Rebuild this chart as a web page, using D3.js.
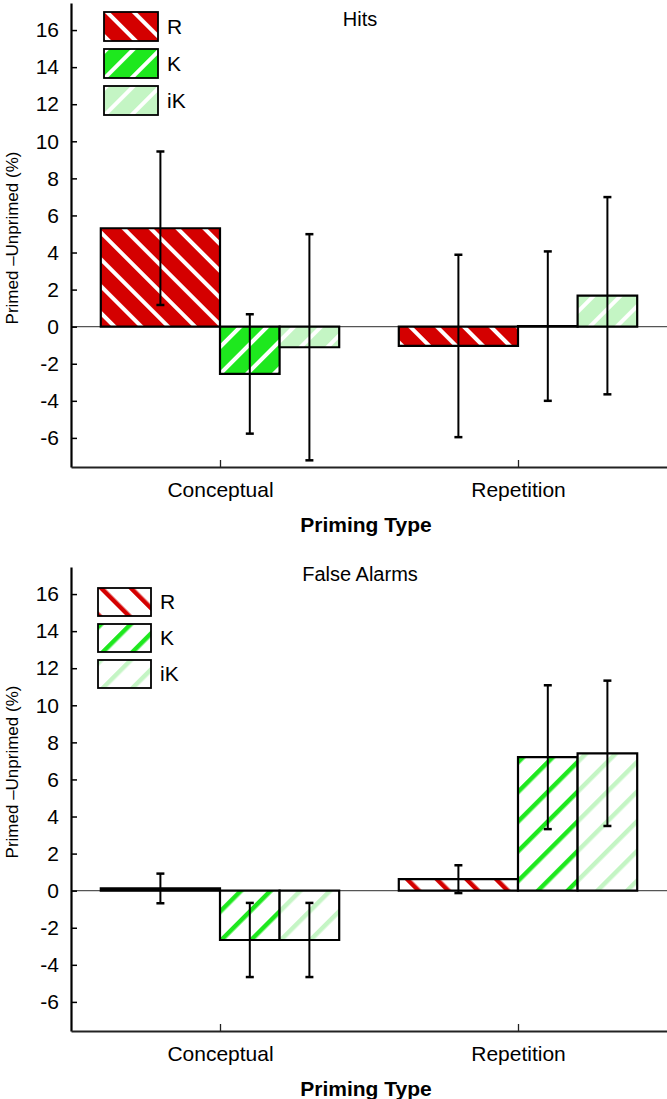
<!DOCTYPE html>
<html><head><meta charset="utf-8">
<script src="https://cdn.jsdelivr.net/npm/d3@7"></script>
<style>
body{margin:0;background:#fff}
svg{display:block}
text{font-family:"Liberation Sans",Arial,Helvetica,sans-serif;fill:#000}
</style>
</head><body>
<svg id="chart" width="667" height="1099"></svg>
<script>
// ---------- data ----------
const categories = ["Conceptual", "Repetition"];
const seriesNames = ["R", "K", "iK"];
const yTicks = [-6, -4, -2, 0, 2, 4, 6, 8, 10, 12, 14, 16];

// Hits panel (mean and error half-width per category)
const hitsR = [5.31, -1.04];
const hitsK = [-2.55, 0.03];
const hitsIK = [-1.11, 1.67];
const hitsErrR = [4.14, 4.92];
const hitsErrK = [3.22, 4.03];
const hitsErrIK = [6.10, 5.32];

// False Alarms panel
const faR = [0.12, 0.62];
const faK = [-2.66, 7.20];
const faIK = [-2.66, 7.41];
const faErrR = [0.80, 0.75];
const faErrK = [2.00, 3.88];
const faErrIK = [2.00, 3.92];

// ---------- styling / layout ----------
const colors = {R: "#d40000", K: "#1ee81e", iK: "#c4f5c4"};
const slots = {R: [-2, 0], K: [0, 1], iK: [1, 2]};
const stripeDir = {R: -45, K: 45, iK: 45};

const panels = [
  {id: "hits", title: "Hits", titleX: 360, titleY: 26, top: 3, bottom: 467, ylabelY: 238,
   style: "solid", legend: {x: 104, y: 12, w: 54, h: 29, step: 37},
   values: {R: hitsR, K: hitsK, iK: hitsIK}, errs: {R: hitsErrR, K: hitsErrK, iK: hitsErrIK}},
  {id: "fa", title: "False Alarms", titleX: 360, titleY: 581, top: 567, bottom: 1031, ylabelY: 772,
   style: "hatch", legend: {x: 98, y: 588, w: 53, h: 28, step: 36},
   values: {R: faR, K: faK, iK: faIK}, errs: {R: faErrR, K: faErrK, iK: faErrIK}}
];

const svg = d3.select("#chart");
const defs = svg.append("defs");

// patterns
panels.forEach(p => {
  seriesNames.forEach(s => {
    const period = p.style === "solid" ? 19 : 21;
    const pat = defs.append("pattern")
      .attr("id", `pat-${p.id}-${s}`)
      .attr("patternUnits", "userSpaceOnUse")
      .attr("width", period).attr("height", period)
      .attr("patternTransform", `rotate(${stripeDir[s]})`);
    pat.append("rect").attr("width", period).attr("height", period)
      .attr("fill", p.style === "solid" ? colors[s] : "#fff");
    pat.append("rect").attr("x", 0).attr("width", p.style === "solid" ? 4 : 4.5).attr("height", period)
      .attr("fill", p.style === "solid" ? "#fff" : colors[s]);
  });
});

const xLeft = 71, xRight = 667;
const xBand = d3.scaleBand().domain(categories).range([xLeft, xRight]).padding(0);
const bw = xBand.bandwidth();
const xPoint = d3.scalePoint().domain(categories).range([xLeft, xRight]).padding(0.5);
const inner = d3.scaleLinear().domain([-2, 2]).range([-0.4 * bw, 0.4 * bw]);

panels.forEach(p => {
  const g = svg.append("g");
  const y = d3.scaleLinear().domain([-7.57, 17.46]).range([p.bottom, p.top]);

  // zero line
  g.append("line")
    .attr("x1", xLeft).attr("x2", xRight)
    .attr("y1", y(0)).attr("y2", y(0))
    .attr("stroke", "#555").attr("stroke-width", 1.2);

  // bars
  seriesNames.forEach(s => {
    const vals = p.values[s];
    g.selectAll(null).data(categories.map((c, i) => ({c, v: vals[i]})))
      .join("path")
      .attr("d", d => {
        const cx = xPoint(d.c);
        const x0 = cx + inner(slots[s][0]), x1 = cx + inner(slots[s][1]);
        const y0 = y(0), y1 = y(d.v);
        return `M${x0},${y0}H${x1}V${y1}H${x0}Z`;
      })
      .attr("fill", `url(#pat-${p.id}-${s})`)
      .attr("stroke", "#000").attr("stroke-width", 2.2)
      .attr("stroke-linejoin", "miter");
  });

  // error bars
  seriesNames.forEach(s => {
    const vals = p.values[s], errs = p.errs[s];
    const data = categories.map((c, i) => ({c, v: vals[i], e: errs[i]}));
    const cxOf = d => xPoint(d.c) + inner((slots[s][0] + slots[s][1]) / 2);
    const eg = g.selectAll(null).data(data).join("g");
    eg.append("line")
      .attr("x1", cxOf).attr("x2", cxOf)
      .attr("y1", d => y(d.v + d.e)).attr("y2", d => y(d.v - d.e))
      .attr("stroke", "#000").attr("stroke-width", 2);
    [1, -1].forEach(sign => {
      eg.append("line")
        .attr("x1", d => cxOf(d) - 4).attr("x2", d => cxOf(d) + 4)
        .attr("y1", d => y(d.v + sign * d.e)).attr("y2", d => y(d.v + sign * d.e))
        .attr("stroke", "#000").attr("stroke-width", 2.5);
    });
  });

  // y axis
  const ya = g.append("g").attr("transform", `translate(${xLeft},0)`)
    .call(d3.axisLeft(y).tickValues(yTicks).tickFormat(d => String(d))
      .tickSize(-6).tickSizeOuter(0).tickPadding(12));
  ya.select(".domain").attr("stroke", "#000").attr("stroke-width", 2.2);
  ya.selectAll(".tick line").attr("stroke", "#000").attr("stroke-width", 1.5);
  ya.selectAll(".tick text").attr("font-size", 21).attr("font-family", "Liberation Sans, Arial, sans-serif");

  // x axis
  const xa = g.append("g").attr("transform", `translate(0,${p.bottom})`)
    .call(d3.axisBottom(xPoint).tickSize(-7).tickSizeOuter(0).tickPadding(15));
  xa.select(".domain").attr("stroke", "#222").attr("stroke-width", 1.8);
  xa.selectAll(".tick line").attr("stroke", "#222").attr("stroke-width", 1.3);
  xa.selectAll(".tick text").attr("font-size", 21).attr("font-family", "Liberation Sans, Arial, sans-serif");

  // axis titles
  g.append("text")
    .attr("x", (xLeft + xRight) / 2 - 3).attr("y", p.bottom + 65)
    .attr("text-anchor", "middle").attr("font-size", 21).attr("font-weight", "bold")
    .text("Priming Type");
  g.append("text")
    .attr("transform", `translate(18,${p.ylabelY}) rotate(-90)`)
    .attr("text-anchor", "middle").attr("font-size", 17)
    .text("Primed \u2013Unprimed (%)");

  // panel title
  g.append("text")
    .attr("x", p.titleX).attr("y", p.titleY)
    .attr("text-anchor", "middle").attr("font-size", 20)
    .text(p.title);

  // legend
  const L = p.legend;
  const lg = g.selectAll(null).data(seriesNames).join("g")
    .attr("transform", (d, i) => `translate(${L.x},${L.y + i * L.step})`);
  lg.append("rect")
    .attr("width", L.w).attr("height", L.h)
    .attr("fill", d => `url(#pat-${p.id}-${d})`)
    .attr("stroke", "#000").attr("stroke-width", 1.8);
  lg.append("text")
    .attr("x", L.w + 9).attr("y", L.h / 2 + 7)
    .attr("font-size", 21)
    .text(d => d);
});
</script>
</body></html>
